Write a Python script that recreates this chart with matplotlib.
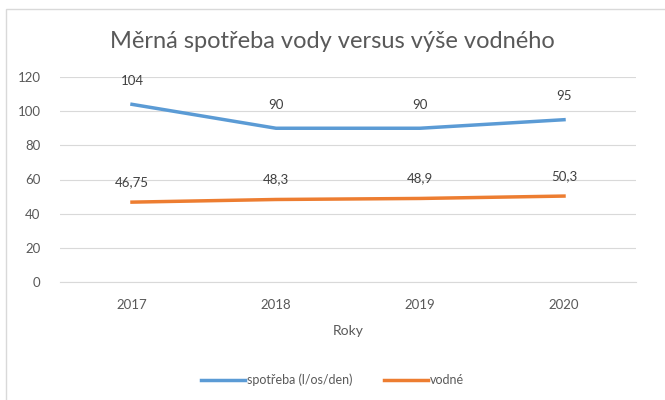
#!/usr/bin/env python3

import matplotlib.pyplot as plt
from matplotlib.patches import Rectangle

years = ["2017", "2018", "2019", "2020"]
spotreba = [104, 90, 90, 95]
vodne = [46.75, 48.3, 48.9, 50.3]
spotreba_labels = ["104", "90", "90", "95"]
vodne_labels = ["46,75", "48,3", "48,9", "50,3"]

plt.rcParams['font.family'] = ['Lato', 'DejaVu Sans']

fig = plt.figure(figsize=(6.65, 4.0), dpi=100)
ax = fig.add_axes([60 / 665, 1 - 282 / 400, 576 / 665, 205 / 400])

# chart frame (cropped at right and bottom)
fig.patches.append(Rectangle((6 / 665, -0.05), 1.0, 1 - 9 / 400 + 0.05,
                             transform=fig.transFigure, fill=False,
                             edgecolor='#d9d9d9', linewidth=1))

x = range(len(years))
ax.plot(x, spotreba, color='#5b9bd5', linewidth=2.5, label='spotřeba (l/os/den)')
ax.plot(x, vodne, color='#ed7d31', linewidth=2.5, label='vodné')

for i in x:
    ax.annotate(spotreba_labels[i], (i, spotreba[i]), xytext=(0, 12.5),
                textcoords='offset points', ha='center', va='bottom',
                fontsize=9.5, color='#404040')
    ax.annotate(vodne_labels[i], (i, vodne[i]), xytext=(0, 10),
                textcoords='offset points', ha='center', va='bottom',
                fontsize=9.5, color='#404040')

ax.set_xlim(-0.5, len(years) - 0.5)
ax.set_ylim(0, 120)
ax.set_yticks(range(0, 121, 20))
ax.set_xticks(list(x))
ax.set_xticklabels(years)
ax.grid(axis='y', color='#d9d9d9', linewidth=0.8)
ax.set_axisbelow(True)
for s in ['top', 'right', 'left']:
    ax.spines[s].set_visible(False)
ax.spines['bottom'].set_color('#d9d9d9')
ax.tick_params(length=0, labelsize=9.5, labelcolor='#595959', pad=12)
ax.tick_params(axis='y', pad=14)
ax.set_xlabel('Roky', fontsize=10, color='#595959', labelpad=10)

fig.text(0.5, 1 - 42 / 400, 'Měrná spotřeba vody versus výše vodného',
         ha='center', va='center', fontsize=17, color='#595959')

fig.legend(loc='center', bbox_to_anchor=(0.5, 1 - 380 / 400), ncol=2,
           frameon=False, fontsize=9, handlelength=3.5, handletextpad=0.2,
           columnspacing=2.5, labelcolor='#595959')

fig.savefig('out.png', dpi=100)
